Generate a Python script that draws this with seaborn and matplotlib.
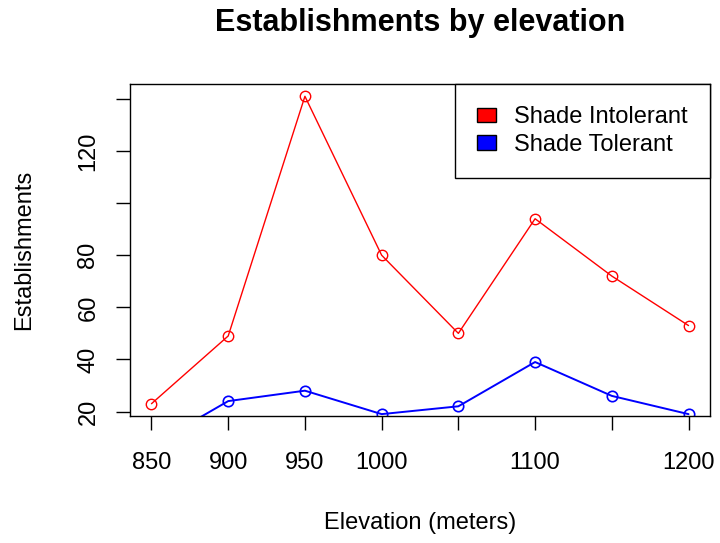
import matplotlib
matplotlib.use("Agg")
import matplotlib.pyplot as plt
from matplotlib.patches import Patch
import seaborn as sns
import pandas as pd

# ---- data ----
elevation = [850, 900, 950, 1000, 1050, 1100, 1150, 1200]
shade_intolerant = [23, 49, 141, 80, 50, 94, 72, 53]
shade_tolerant = [7, 24, 28, 19, 22, 39, 26, 19]
x_tick_values = [850, 900, 950, 1000, 1050, 1100, 1150, 1200]
x_tick_labels = ["850", "900", "950", "1000", "", "1100", "", "1200"]
y_tick_values = [20, 40, 60, 80, 100, 120, 140]
y_tick_labels = ["20", "40", "60", "80", "", "120", ""]
series_names = ["Shade Intolerant", "Shade Tolerant"]
series_colors = ["#FF0000", "#0000FF"]

sns.set_theme(style="white")
plt.rcParams["font.family"] = ["Liberation Sans", "DejaVu Sans"]

df_int = pd.DataFrame({"elev": elevation, "n": shade_intolerant})
df_tol = pd.DataFrame({"elev": elevation, "n": shade_tolerant})

fig = plt.figure(figsize=(7.2, 5.43), dpi=100)
ax = fig.add_axes([130 / 720, 1 - 416 / 543, 580 / 720, 332 / 543])

sns.lineplot(data=df_int, x="elev", y="n", ax=ax, color=series_colors[0],
             marker="o", markersize=7.5, markerfacecolor="none",
             markeredgecolor=series_colors[0], markeredgewidth=1.0, linewidth=1.0)
sns.lineplot(data=df_tol, x="elev", y="n", ax=ax, color=series_colors[1],
             marker="o", markersize=7.5, markerfacecolor="none",
             markeredgecolor=series_colors[1], markeredgewidth=1.2, linewidth=1.4)

xr = max(elevation) - min(elevation)
ax.set_xlim(min(elevation) - 0.04 * xr, max(elevation) + 0.04 * xr)
yr = max(shade_intolerant) - min(shade_intolerant)
ax.set_ylim(min(shade_intolerant) - 0.04 * yr, max(shade_intolerant) + 0.04 * yr)

ax.set_xticks(x_tick_values)
ax.set_xticklabels(x_tick_labels)
ax.set_yticks(y_tick_values)
ax.set_yticklabels(y_tick_labels, rotation=90, va="center")

ax.tick_params(axis="both", which="both", direction="out", length=10, width=1.0,
               color="black", labelsize=17, labelcolor="black",
               bottom=True, left=True)
ax.tick_params(axis="x", pad=16)
ax.tick_params(axis="y", pad=12)

for sp in ax.spines.values():
    sp.set_visible(True)
    sp.set_color("black")
    sp.set_linewidth(1.0)

ax.set_xlabel("Elevation (meters)", fontsize=17, color="black")
ax.set_ylabel("Establishments", fontsize=17, color="black")
ax.xaxis.set_label_coords(0.5, -0.29)
ax.yaxis.set_label_coords(-0.163, 0.5)

ax.set_title("Establishments by elevation", fontsize=22, fontweight="bold",
             pad=38, color="black")

handles = [Patch(facecolor=c, edgecolor="black", linewidth=1.0) for c in series_colors]
leg = ax.legend(handles, series_names, loc="upper right", bbox_to_anchor=(1.0, 1.0),
                borderaxespad=0.0, fontsize=17, frameon=True, fancybox=False,
                edgecolor="black", framealpha=1.0, handlelength=0.8, handleheight=0.55,
                handletextpad=0.75, borderpad=0.95, labelspacing=0.23)
leg.get_frame().set_linewidth(1.0)
for t in leg.get_texts():
    t.set_color("black")

fig.savefig("out.png", dpi=100, facecolor="white")
